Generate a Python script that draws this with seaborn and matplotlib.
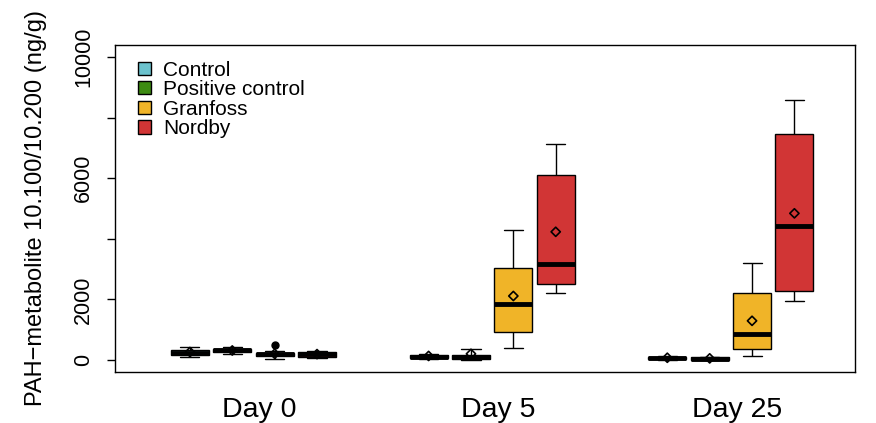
import numpy as np
import pandas as pd
import matplotlib
matplotlib.use("Agg")
import matplotlib.pyplot as plt
from matplotlib.patches import Patch
import seaborn as sns

days = ["Day 0", "Day 5", "Day 25"]
groups = ["Control", "Positive control", "Granfoss", "Nordby"]
colors = ["#6cc3ce", "#3d8b12", "#f0b428", "#d13535"]

# values per box: whisker low, q1, median, q3, whisker high (plus outliers where shown)
day0 = [
    [100, 150, 230, 330, 430],
    [200, 250, 310, 370, 420],
    [30, 60, 120, 160, 190, 220, 240, 300, 480],
    [60, 100, 180, 250, 280],
]
day5 = [
    [20, 50, 110, 150, 180],
    [0, 20, 90, 170, 350],
    [400, 930, 1860, 3050, 4290],
    [2220, 2500, 3180, 6100, 7130],
]
day25 = [
    [0, 20, 60, 100, 140],
    [0, 10, 40, 80, 110],
    [140, 350, 870, 2220, 3190],
    [1960, 2280, 4430, 7450, 8580],
]

means_day0 = [260, 310, 200, 190]
means_day5 = [130, 200, 2110, 4230]
means_day25 = [70, 50, 1290, 4840]

rows = []
for day, vals in zip(days, [day0, day5, day25]):
    for g, v in zip(groups, vals):
        for x in v:
            rows.append({"Day": day, "Group": g, "Value": x})
df = pd.DataFrame(rows)

sns.set_style("white")
plt.rcParams["font.family"] = ["Liberation Sans", "DejaVu Sans"]
plt.rcParams["text.color"] = "black"
plt.rcParams["axes.labelcolor"] = "black"
plt.rcParams["xtick.color"] = "black"
plt.rcParams["ytick.color"] = "black"

fig = plt.figure(figsize=(8.76, 4.23), dpi=100)
ax = fig.add_axes([0.1313, 0.1206, 0.8447, 0.773])

width = 0.71
sns.boxplot(data=df, x="Day", y="Value", hue="Group", order=days, hue_order=groups,
            palette=colors, saturation=1, width=width, gap=0.1, whis=1.5,
            linecolor="black", linewidth=1, ax=ax,
            medianprops={"linewidth": 3.5, "color": "black"},
            flierprops={"marker": "o", "markerfacecolor": "black",
                        "markeredgecolor": "black", "markersize": 5})

# mean markers (open diamonds)
n = len(groups)
for i, means in enumerate([means_day0, means_day5, means_day25]):
    xs = [i + (j - (n - 1) / 2) * width / n for j in range(n)]
    ax.scatter(xs, means, marker="D", s=22, facecolors="none",
               edgecolors="black", linewidths=1.2, zorder=5)

ax.set_xlim(-0.58, 2.52)
ax.set_xticks([0.025, 1.025, 2.025])
ax.set_xticklabels(days)
ax.set_ylim(-400, 10400)
ax.set_yticks([0, 2000, 4000, 6000, 8000, 10000])
ax.set_yticklabels(["0", "2000", "", "6000", "", "10000"])
for lab in ax.get_yticklabels():
    lab.set_rotation(90)
    lab.set_va("center")
ax.tick_params(axis="y", length=6, width=1, pad=9, labelsize=15.5, left=True)
ax.tick_params(axis="x", length=0, pad=18, labelsize=20.5)
ax.set_xlabel("")
ax.set_ylabel("PAH\u2212metabolite 10.100/10.200 (ng/g)", fontsize=17, labelpad=19)

for s in ax.spines.values():
    s.set_color("black")
    s.set_linewidth(1)

handles = [Patch(facecolor=c, edgecolor="black", linewidth=1) for c in colors]
ax.legend(handles, groups, loc="upper left", bbox_to_anchor=(0.02, 0.978),
          frameon=False, fontsize=15, handlelength=0.6, handleheight=0.6,
          handletextpad=0.6, labelspacing=0.03, borderaxespad=0)

fig.savefig("out.png", dpi=100)
